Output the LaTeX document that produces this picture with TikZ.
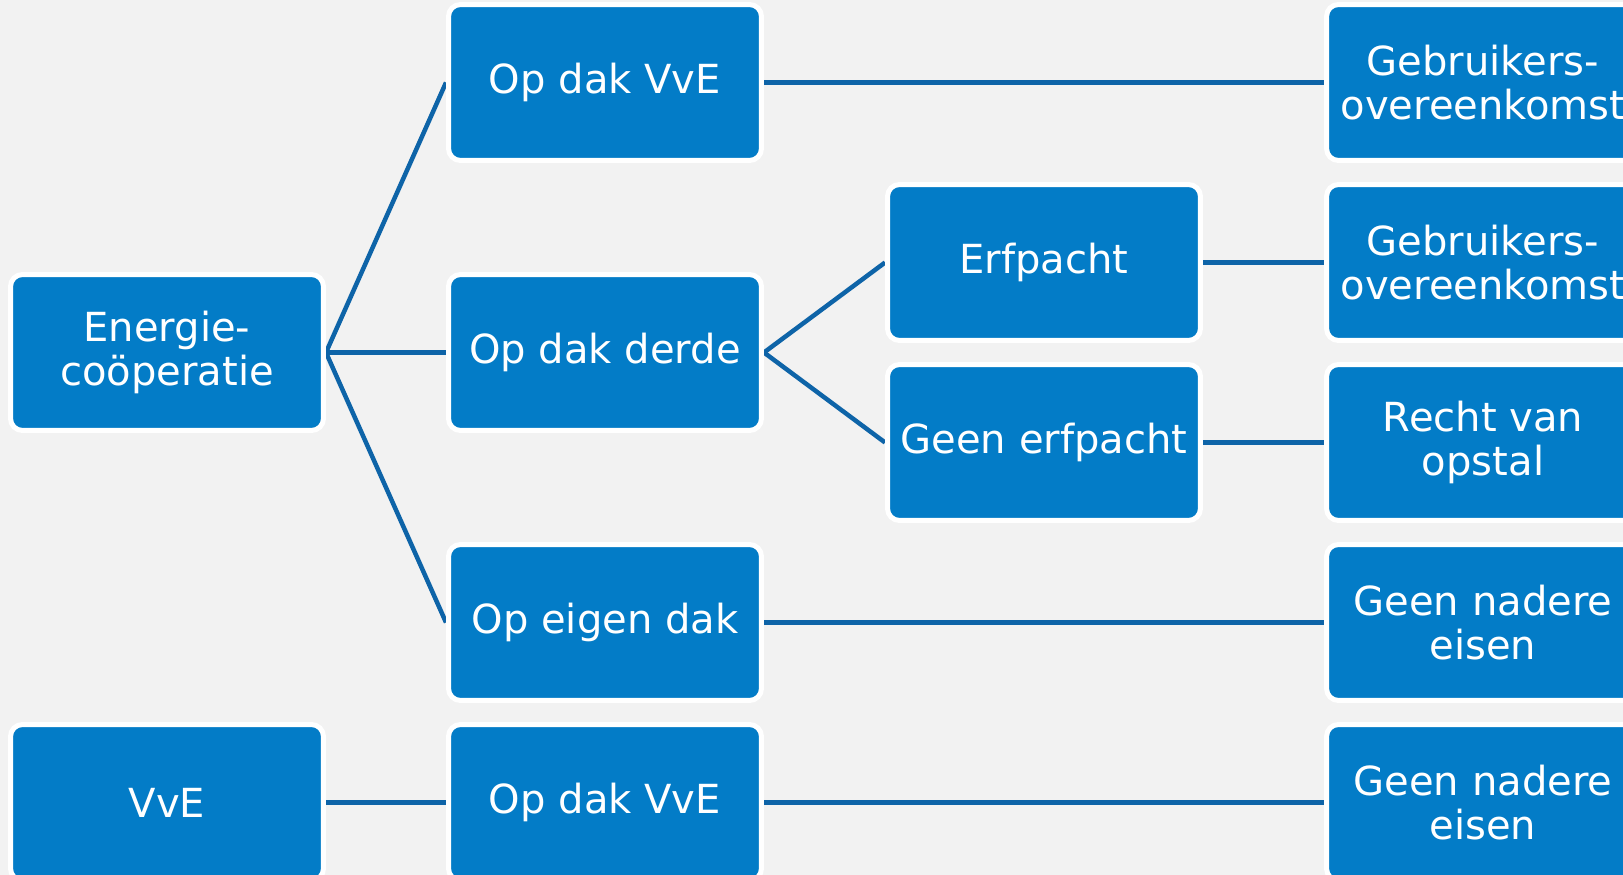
\documentclass[tikz,border=0pt]{standalone}
\usepackage{fontspec}
\setmainfont{DejaVu Sans}
\usetikzlibrary{backgrounds}
\definecolor{blokblauw}{HTML}{037CC7}
\definecolor{lijnblauw}{HTML}{0E64A8}
\definecolor{achtergrond}{HTML}{F2F2F2}
\tikzset{
  blok/.style = {rectangle, rounded corners=0.24cm, fill=blokblauw, draw=white, line width=0.1cm,
    minimum width=6.26cm, minimum height=3.12cm, inner sep=0pt, align=center, text=white,
    font=\fontsize{22.8}{24.8}\selectfont},
  lijn/.style = {draw=lijnblauw, line width=0.09cm}
}

\begin{document}
\begin{tikzpicture}[x=0.02cm, y=-0.02cm]
\useasboundingbox (0,0) rectangle (1623,875);
\node [blok] (energie) at (167,352.5) {Energie-\\coöperatie};
\node [blok] (vve) at (167,802.5) {VvE};
\node [blok] (vveA) at (605,82.5) {Op dak VvE};
\node [blok] (derde) at (605,352.5) {Op dak derde};
\node [blok] (eigen) at (605,622.5) {Op eigen dak};
\node [blok] (vveB) at (605,802.5) {Op dak VvE};
\node [blok] (erfpacht) at (1044,262.5) {Erfpacht};
\node [blok] (geenerf) at (1044,442.5) {Geen erfpacht};
\node [blok] (gebrA) at (1483,82.5) {Gebruikers-\\overeenkomst};
\node [blok] (gebrB) at (1483,262.5) {Gebruikers-\\overeenkomst};
\node [blok] (opstal) at (1483,442.5) {Recht van\\opstal};
\node [blok] (nadereA) at (1483,622.5) {Geen nadere\\eisen};
\node [blok] (nadereB) at (1483,802.5) {Geen nadere\\eisen};
\begin{scope}[on background layer]
  \fill [achtergrond] (0,0) rectangle (1623,875);
  % verbindingen
  \draw [lijn] (energie.east) -- (vveA.west);
  \draw [lijn] (energie.east) -- (derde.west);
  \draw [lijn] (energie.east) -- (eigen.west);
  \draw [lijn] (derde.east) -- (erfpacht.west);
  \draw [lijn] (derde.east) -- (geenerf.west);
  \draw [lijn] (vveA.east) -- (gebrA.west);
  \draw [lijn] (erfpacht.east) -- (gebrB.west);
  \draw [lijn] (geenerf.east) -- (opstal.west);
  \draw [lijn] (eigen.east) -- (nadereA.west);
  \draw [lijn] (vve.east) -- (vveB.west);
  \draw [lijn] (vveB.east) -- (nadereB.west);
\end{scope}
\end{tikzpicture}
\end{document}
